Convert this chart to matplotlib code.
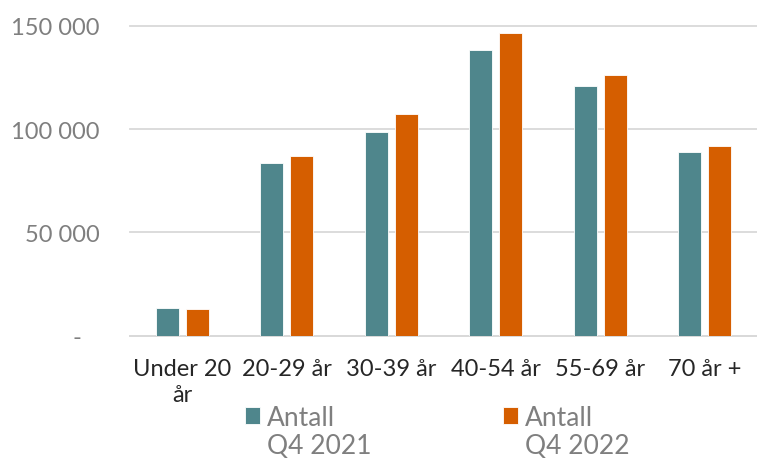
import numpy as np
import matplotlib.pyplot as plt

categories = ["Under 20\når", "20-29 år", "30-39 år", "40-54 år", "55-69 år", "70 år +"]
q4_2021 = [13300, 83400, 98700, 138400, 121000, 88900]
q4_2022 = [12900, 86800, 107200, 146400, 126000, 91800]
series_first = ["Antall", "Antall"]
series_second = ["Q4 2021", "Q4 2022"]
yticks = [0, 50000, 100000, 150000]
ytick_labels = ["-   ", "50 000", "100 000", "150 000"]

plt.rcParams['font.family'] = ['Lato', 'DejaVu Sans']

fig = plt.figure(figsize=(7.57, 4.60), dpi=100)
ax = fig.add_axes([130 / 757, 1 - 336.7 / 460, 627 / 757, (336.7 - 26.7) / 460])

x = np.arange(len(categories))
w = 0.223
off = (w + 0.064) / 2
b1 = ax.bar(x - off, q4_2021, w, color='#4F868C', edgecolor='white', linewidth=0.6, zorder=3)
b2 = ax.bar(x + off, q4_2022, w, color='#D55E00', edgecolor='white', linewidth=0.6, zorder=3)

ax.set_xlim(-0.5, len(categories) - 0.5)
ax.set_ylim(0, 150000)
ax.set_yticks(yticks)
ax.set_yticklabels(ytick_labels)
ax.set_xticks(x)
ax.set_xticklabels(categories, linespacing=1.3)

for s in ['top', 'right', 'left']:
    ax.spines[s].set_visible(False)
ax.spines['bottom'].set_color('#d9d9d9')
ax.spines['bottom'].set_linewidth(1.3)
ax.yaxis.grid(True, color='#d9d9d9', linewidth=1.3, zorder=0)
for gl in ax.get_ygridlines():
    gl.set_clip_on(False)
ax.tick_params(axis='y', length=0, pad=22, labelsize=17, labelcolor='#7f7f7f')
ax.tick_params(axis='x', length=0, pad=16, labelsize=17, labelcolor='#262626')

# legend: first line with handles, second line added as text underneath
leg = fig.legend(handles=[b1, b2], labels=series_first, loc='lower left',
                 bbox_to_anchor=(232 / 757, 1 - 444 / 460), ncol=2, frameon=False,
                 fontsize=19, labelcolor='#7f7f7f', handlelength=0.57, handleheight=0.57,
                 handletextpad=0.25, columnspacing=6.37, borderpad=0)
fig.canvas.draw()
inv = fig.transFigure.inverted()
for t, lab in zip(leg.get_texts(), series_second):
    bb = t.get_window_extent()
    x0, y0 = inv.transform((bb.x0, bb.y0 - 3))
    fig.text(x0, y0, lab, fontsize=19, color='#7f7f7f', ha='left', va='top')

fig.savefig("out.png", dpi=100)
